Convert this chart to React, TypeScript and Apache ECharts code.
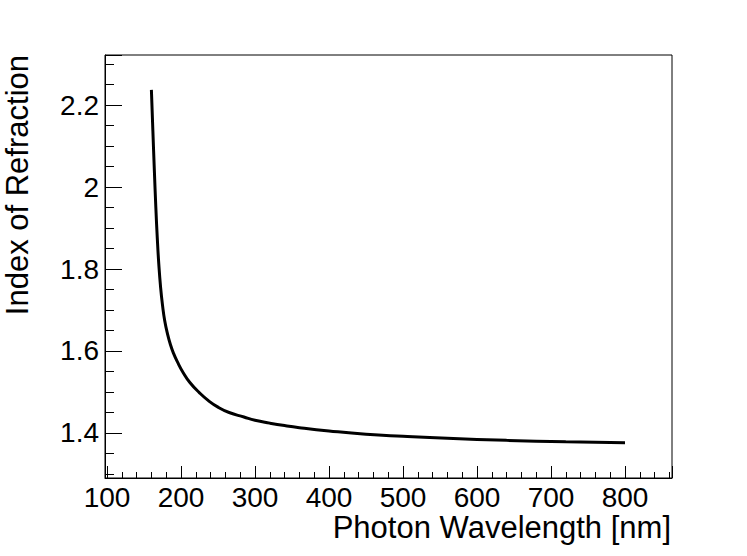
import React, { useEffect, useRef } from "react";
import * as echarts from "echarts";

// Data
const wavelengths = [160, 162, 164, 166, 168, 170, 172.5, 175, 178, 182, 186, 190, 195, 203, 212, 225, 237, 250, 265, 285, 300, 320, 340, 360, 400, 450, 500, 560, 640, 720, 800];
const refractiveIndex = [2.237, 2.137, 2.04, 1.95, 1.874, 1.812, 1.754, 1.712, 1.674, 1.64, 1.614, 1.594, 1.574, 1.547, 1.523, 1.498, 1.479, 1.463, 1.45, 1.439, 1.431, 1.424, 1.418, 1.413, 1.405, 1.397, 1.392, 1.387, 1.382, 1.3785, 1.376];

const xTitle = "Photon Wavelength [nm]";
const yTitle = "Index of Refraction";

const X_MIN = 97.3;
const X_MAX = 863.5;
const Y_MIN = 1.2902;
const Y_MAX = 2.322;

const FONT = "'Liberation Sans', Arial, Helvetica, sans-serif";

const isMultiple = (v: number, step: number) => Math.abs(v / step - Math.round(v / step)) < 1e-6;

export default function App() {
  const ref = useRef<HTMLDivElement>(null);
  useEffect(() => {
    if (!ref.current) return;
    const chart = echarts.init(ref.current, undefined, { renderer: "svg" });
    const data = wavelengths.map((w, i) => [w, refractiveIndex[i]]);
    const black = "#000";
    chart.setOption({
      animation: false,
      backgroundColor: "#fff",
      grid: {
        left: 105,
        right: 75,
        top: 55,
        bottom: 78,
        show: true,
        borderColor: black,
        borderWidth: 1,
        backgroundColor: "transparent",
      },
      xAxis: [
        {
          type: "value",
          min: X_MIN,
          max: X_MAX,
          minInterval: 100,
          maxInterval: 100,
          position: "bottom",
          axisLine: { show: true, onZero: false, lineStyle: { color: black, width: 1 } },
          axisTick: { show: true, inside: true, length: 12, lineStyle: { color: black, width: 1 } },
          axisLabel: {
            show: true,
            margin: 5,
            fontSize: 28,
            color: black,
            fontFamily: FONT,
            formatter: (v: number) => (isMultiple(v, 100) ? String(Math.round(v)) : ""),
          },
          splitLine: { show: false },
        },
        {
          type: "value",
          min: X_MIN,
          max: X_MAX,
          minInterval: 20,
          maxInterval: 20,
          position: "bottom",
          axisLine: { show: false, onZero: false },
          axisTick: { show: true, inside: true, length: 6, lineStyle: { color: black, width: 1 } },
          axisLabel: { show: false },
          splitLine: { show: false },
        },
      ],
      yAxis: [
        {
          type: "value",
          min: Y_MIN,
          max: Y_MAX,
          minInterval: 0.2,
          maxInterval: 0.2,
          position: "left",
          axisLine: { show: true, onZero: false, lineStyle: { color: black, width: 1 } },
          axisTick: { show: true, inside: true, length: 17, lineStyle: { color: black, width: 1 } },
          axisLabel: {
            show: true,
            margin: 6,
            fontSize: 28,
            color: black,
            fontFamily: FONT,
            formatter: (v: number) => (isMultiple(v, 0.2) ? String(Math.round(v * 10) / 10) : ""),
          },
          splitLine: { show: false },
        },
        {
          type: "value",
          min: Y_MIN,
          max: Y_MAX,
          minInterval: 0.05,
          maxInterval: 0.05,
          position: "left",
          axisLine: { show: false, onZero: false },
          axisTick: { show: true, inside: true, length: 9, lineStyle: { color: black, width: 1 } },
          axisLabel: { show: false },
          splitLine: { show: false },
        },
      ],
      graphic: [
        {
          type: "text",
          x: 17,
          y: 55,
          rotation: Math.PI / 2,
          style: {
            text: yTitle,
            fontSize: 31,
            fontFamily: FONT,
            fill: black,
            textAlign: "right",
            textVerticalAlign: "middle",
          },
        },
        {
          type: "text",
          x: 671,
          y: 527,
          style: {
            text: xTitle,
            fontSize: 31,
            fontFamily: FONT,
            fill: black,
            textAlign: "right",
            textVerticalAlign: "middle",
          },
        },
      ],
      series: [
        {
          type: "line",
          xAxisIndex: 0,
          yAxisIndex: 0,
          data,
          showSymbol: false,
          symbol: "none",
          smooth: 0.5,
          lineStyle: { color: black, width: 3 },
        },
      ],
    });
    return () => chart.dispose();
  }, []);
  return (
    <div
      ref={ref}
      style={{ position: "absolute", left: 0, top: 0, width: 747, height: 556, background: "#fff" }}
    />
  );
}
